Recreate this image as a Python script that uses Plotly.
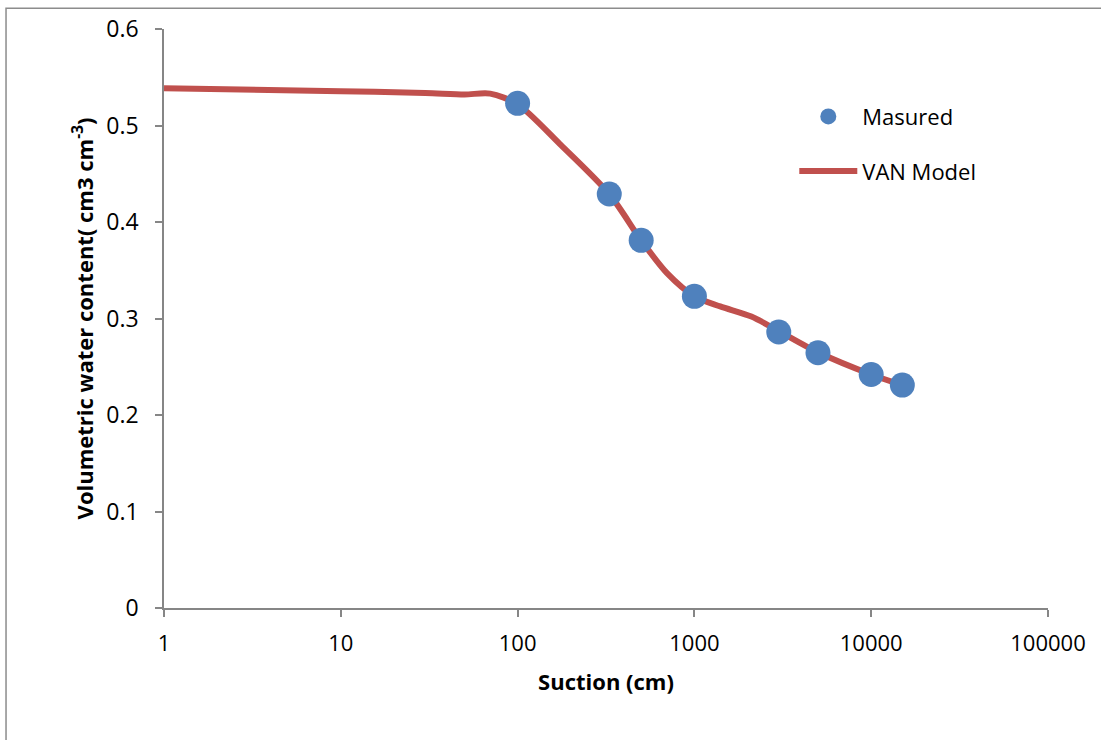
import plotly.graph_objects as go

# Measured data
measured_suction = [100, 330, 500, 1000, 3000, 5000, 10000, 15000]
measured_theta = [0.523, 0.429, 0.381, 0.323, 0.286, 0.2645, 0.242, 0.231]

# VAN (van Genuchten) model curve
model_suction = [1, 10, 30, 50, 70, 100, 173, 330, 500, 700, 1000, 1400, 2100, 3000, 5000, 10000, 15000]
model_theta = [0.5386, 0.5355, 0.5338, 0.5322, 0.5330, 0.5220, 0.4810, 0.4290, 0.3810, 0.3470,
               0.3230, 0.3125, 0.3020, 0.2870, 0.2650, 0.2420, 0.2310]

x_tickvals = [1, 10, 100, 1000, 10000, 100000]
x_ticktext = ["1", "10", "100", "1000", "10000", "100000"]
y_tickvals = [0, 0.1, 0.2, 0.3, 0.4, 0.5, 0.6]
y_ticktext = ["0", "0.1", "0.2", "0.3", "0.4", "0.5", "0.6"]

FONT = "Open Sans, DejaVu Sans, sans-serif"
AXIS_COLOR = "#868686"

fig = go.Figure()
fig.add_trace(go.Scatter(
    x=model_suction, y=model_theta, mode="lines", name="VAN Model",
    line=dict(color="#C0504D", width=6, shape="spline", smoothing=0.8),
    legendgroup="b", legendrank=2,
))
fig.add_trace(go.Scatter(
    x=measured_suction, y=measured_theta, mode="markers", name="Masured",
    marker=dict(color="#4F81BD", size=25, line=dict(width=0)),
    legendgroup="a", legendrank=1,
))

fig.update_layout(
    width=1101, height=740,
    margin=dict(l=164, r=53, t=27, b=132),
    paper_bgcolor="white", plot_bgcolor="white",
    font=dict(family=FONT, color="black"),
    showlegend=True,
    legend=dict(
        x=0.713, y=0.885, xanchor="left", yanchor="top",
        font=dict(family=FONT, size=22, color="black"),
        traceorder="grouped", tracegroupgap=23,
        itemwidth=58, bgcolor="rgba(0,0,0,0)",
    ),
    xaxis=dict(
        type="log", range=[0, 5],
        tickvals=x_tickvals, ticktext=x_ticktext,
        showgrid=False, zeroline=False,
        showline=True, linecolor=AXIS_COLOR, linewidth=1.5,
        ticks="outside", ticklen=7, tickcolor=AXIS_COLOR, tickwidth=1.5,
        tickfont=dict(family=FONT, size=22, color="black"),
        ticklabelstandoff=8,
        title=dict(text="<b>Suction (cm)</b>", font=dict(family=FONT, size=22, color="black"), standoff=18),
    ),
    yaxis=dict(
        range=[0, 0.6],
        tickvals=y_tickvals, ticktext=y_ticktext,
        showgrid=False, zeroline=False,
        showline=True, linecolor=AXIS_COLOR, linewidth=1.5,
        ticks="outside", ticklen=7, tickcolor=AXIS_COLOR, tickwidth=1.5,
        tickfont=dict(family=FONT, size=23, color="black"),
        ticklabelstandoff=12,
        title=dict(text="<b>Volumetric water content( cm3 cm<sup>-3</sup>)</b>",
                   font=dict(family=FONT, size=22, color="black"), standoff=7),
    ),
    shapes=[dict(
        type="rect", xref="paper", yref="paper",
        x0=-0.1787, x1=1.2, y0=-0.4, y1=1.036,
        line=dict(color="#8C8C8C", width=1.5), fillcolor="rgba(0,0,0,0)", layer="below",
    )],
)

fig.write_html(
    "out.html",
    config={"displayModeBar": False},
    post_script="document.body.style.margin='0';document.body.style.overflow='hidden';",
)
